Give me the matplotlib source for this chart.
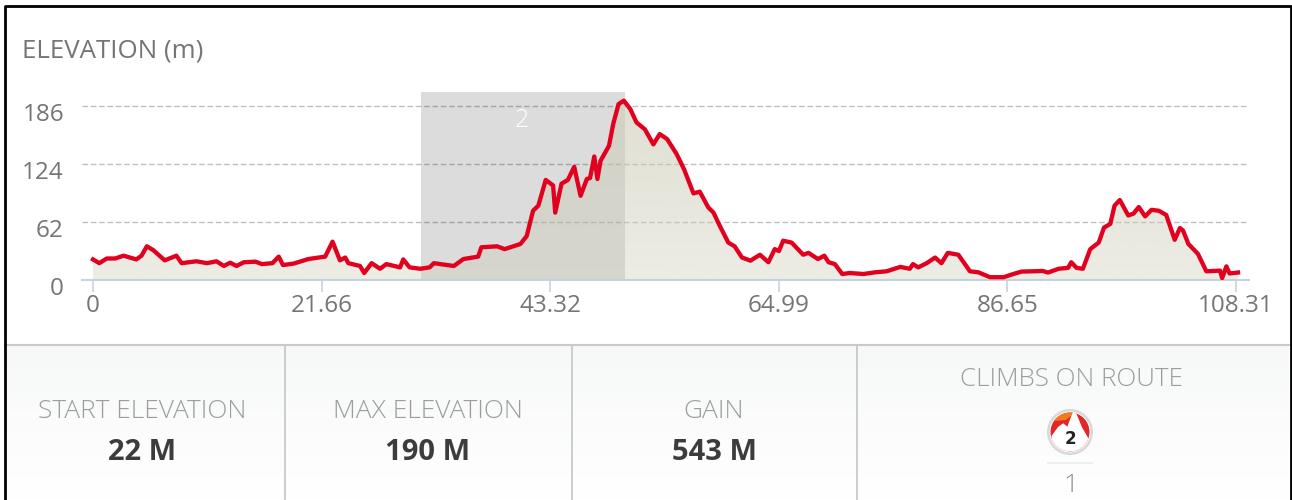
import matplotlib
matplotlib.use("Agg")
import matplotlib.pyplot as plt
from matplotlib.colors import LinearSegmentedColormap
from matplotlib.patches import Circle, Polygon, Rectangle
from matplotlib.transforms import ScaledTranslation
import numpy as np

plt.rcParams['font.family'] = ['Open Sans', 'DejaVu Sans']

# km along the route
dist = [0, .6, 1.3, 2.1, 2.9, 4.1, 4.6, 5.1, 5.7, 6.8, 7.9, 8.4, 9.8, 10.8, 11.7, 12.4, 13, 13.6, 14.3, 15.4,
        16, 17, 17.6, 18, 19, 20.4, 22, 22.7, 23.4, 23.9, 24.2, 25.3, 25.7, 26.4, 27.2, 27.8, 29.1, 29.4, 30, 31,
        31.9, 32.3, 32.9, 34.2, 35.1, 36.5, 36.8, 38.3, 39, 40.5, 41.1, 41.7, 42.2, 42.9, 43.6, 43.8, 44.4, 45, 45.6, 46.2,
        46.8, 47.1, 47.5, 47.8, 48.1, 48.9, 49.3, 49.8, 50.3, 50.9, 51.5, 52.3, 53.1, 53.7, 54.4, 55.3, 56, 56.9, 57.5, 58.3,
        58.8, 59.3, 60.2, 60.8, 61.5, 62.3, 63.2, 64, 64.6, 65, 65.4, 66.2, 67.3, 67.8, 68.7, 69.3, 69.7, 70.3, 71, 71.7,
        73, 74.1, 75.2, 76.5, 77.4, 77.7, 78.2, 79, 79.8, 80.4, 81, 82, 83.1, 83.9, 85, 86.3, 87.2, 88, 90, 90.5,
        91.5, 92.4, 92.7, 93.2, 93.8, 94.5, 95.3, 95.8, 96.4, 96.8, 97.3, 98.1, 98.6, 99.1, 99.7, 100.3, 101, 101.7, 102.5, 103,
        103.3, 103.8, 104.7, 105.5, 106.8, 107, 107.4, 107.7, 108.5]
elev = [22, 18, 23, 23, 26, 22, 26, 36, 32, 21, 26, 18, 20, 18, 20, 15, 18.5, 15, 19, 19.6,
        17, 18, 25, 16, 17.5, 22.4, 25, 41, 21, 24, 18, 15, 7.5, 18, 12, 17, 13.5, 22, 13.5, 12,
        13.5, 18, 17, 15, 22.4, 25, 35, 36, 33, 38.5, 47, 74, 79.5, 107, 101, 72, 103, 107, 121, 90,
        108, 109, 132, 108, 127.5, 143.6, 167, 188, 191.7, 183, 168.5, 161, 145, 156, 150.7, 134.7, 118.6, 92.6, 94.4, 77.7,
        72, 60, 40, 36, 24, 20.7, 27, 19, 33, 31, 42, 40, 27, 29, 22.4, 26, 19, 17, 6.4, 7.5,
        6.4, 8.2, 9.3, 14, 12, 17, 13.5, 18, 24, 18, 29, 27, 9.3, 8.2, 3, 3, 6.4, 9, 9.6, 8,
        12, 13, 19, 13, 12, 33, 40, 56, 60, 79.5, 85.5, 69, 71, 78, 68, 75, 74, 69.5, 43, 55.6,
        52.7, 38.5, 28, 9.3, 10, 2, 14.6, 7, 8]

y_ticks = [0, 62, 124, 186]
x_ticks = [0, 21.66, 43.32, 64.99, 86.65, 108.31]
x_labels = ['0', '21.66', '43.32', '64.99', '86.65', '108.31']
climb_start = 31.1
climb_end = 50.4
climb_label = '2'

stat_titles = ['START ELEVATION', 'MAX ELEVATION', 'GAIN']
stat_values = ['22 M', '190 M', '543 M']
climbs_title = 'CLIMBS ON ROUTE'
climbs_count = '1'

W, H = 1292, 500
fig = plt.figure(figsize=(W / 100, H / 100), dpi=100, facecolor='white')

# whole-figure axes in pixel coords, for the panel furniture
bg = fig.add_axes([0, 0, 1, 1])
grad = np.linspace(0, 1, 100).reshape(-1, 1)
bg.imshow(grad, extent=(6, 1289, 500, 345), cmap=LinearSegmentedColormap.from_list('p', ['#f7f8f8', '#ffffff']),
          aspect='auto', zorder=0)
bg.set_xlim(0, W)
bg.set_ylim(H, 0)
bg.axis('off')
bg.plot([5, 1290], [344.5, 344.5], color='#c8caca', lw=1.5)
for x in [284.5, 572, 857]:
    bg.plot([x, x], [345, 500], color='#c8caca', lw=1.3)
bg.plot([4.5, 4.5, 1290.5, 1290.5], [500, 6, 6, 500], color='black', lw=2)

bg.text(22, 51, 'ELEVATION (m)', fontsize=18.6, color='#757575', va='center', ha='left')

for cx, t, v in zip([142, 428, 714], stat_titles, stat_values):
    bg.text(cx, 412, t, fontsize=19, color='#9c9e9e', va='center', ha='center', fontweight='light')
    bg.text(cx, 453, v, fontsize=21, color='#3c3c3c', va='center', ha='center', fontweight='bold')
bg.text(1071, 380, climbs_title, fontsize=18.7, color='#9c9e9e', va='center', ha='center', fontweight='light')
bg.text(1071, 485, climbs_count, fontsize=19, color='#8c8c8c', va='center', ha='center', fontweight='light')

# climb badge
bg.add_patch(Rectangle((1047, 462), 46, 2, fc='#eef0f0', ec='none', zorder=2))
bg.add_patch(Circle((1070, 432), 23, fc='#d8d8d8', ec='none', zorder=3))
bg.add_patch(Circle((1070, 432), 20.5, fc='white', ec='none', zorder=3))
red = Circle((1070, 432), 19.5, fc='#e3262a', ec='none', zorder=4)
bg.add_patch(red)
orange = Polygon([(1050, 420), (1060, 406), (1074, 404), (1072, 415), (1066, 420), (1055, 421)], fc='#f47a1f', ec='none', zorder=5)
bg.add_patch(orange)
orange.set_clip_path(red)
mountain = Polygon([(1051.7, 435.7), (1058.3, 426.7), (1063.3, 423.3), (1067.3, 426.7), (1071.7, 415), (1074.3, 409),
                    (1078.3, 418.3), (1081.7, 426.7), (1088.3, 438.3), (1092, 460), (1048, 460)], fc='white', ec='none', zorder=6)
bg.add_patch(mountain)
mountain.set_clip_path(red)
bg.text(1070, 439, climb_label, fontsize=12, fontweight='bold', color='#222222', va='center', ha='center', zorder=7, family='DejaVu Sans')

# chart axes: 0 at px 93, 108.31 at px 1236, 186 at py 106, 0 at py 280
left, right, top, base = 82, 1249, 92, 280
x_per_px = 108.31 / 1143
y_per_px = 186 / 174
ax = fig.add_axes([left / W, 1 - base / H, (right - left) / W, (base - top) / H])
ax.patch.set_alpha(0)
xlim = ((left - 93) * x_per_px, (right - 93) * x_per_px)
ylim = (0, (base - top) * y_per_px)

ax.axvspan(climb_start, climb_end, color='#dcdcdc', lw=0, zorder=1)
for t in y_ticks[1:]:
    ax.axhline(t, color='black', alpha=0.25, lw=1, dashes=(4, 2), zorder=2)

# fill fades towards the baseline
area = ax.fill_between(dist, elev, 0, color='none', lw=0)
shade = np.zeros((100, 1, 4))
shade[..., 0] = 204 / 255
shade[..., 1] = 204 / 255
shade[..., 2] = 184 / 255
shade[..., 3] = np.linspace(0.65, 0.36, 100).reshape(-1, 1)
img = ax.imshow(shade, extent=(xlim[0], xlim[1], 0, 200), aspect='auto', zorder=3)
img.set_clip_path(area.get_paths()[0], transform=ax.transData)

ax.plot(dist, elev, color='#e2001f', lw=3.1, solid_joinstyle='round', zorder=4)
ax.text((climb_start + climb_end) / 2 - 0.1, 171, climb_label, color='white', fontsize=18, fontweight='light', ha='center', va='center', zorder=5)

ax.set_xlim(*xlim)
ax.set_ylim(*ylim)
for s in ['top', 'left', 'right']:
    ax.spines[s].set_visible(False)
ax.spines['bottom'].set_color('#c3d4e2')
ax.spines['bottom'].set_linewidth(1.5)
ax.set_xticks(x_ticks)
ax.set_xticklabels(x_labels)
ax.set_yticks(y_ticks)
ax.tick_params(axis='x', length=8.6, width=1.2, color='#c3d4e2', labelcolor='#757575', labelsize=17.5, pad=1.5)
ax.tick_params(axis='y', length=0, labelcolor='#757575', labelsize=17.5, pad=13)
# y labels sit a little under their gridlines
down = ScaledTranslation(0, -0.06, fig.dpi_scale_trans)
for lab in ax.get_yticklabels():
    lab.set_transform(lab.get_transform() + down)

fig.savefig('out.png', dpi=100)
